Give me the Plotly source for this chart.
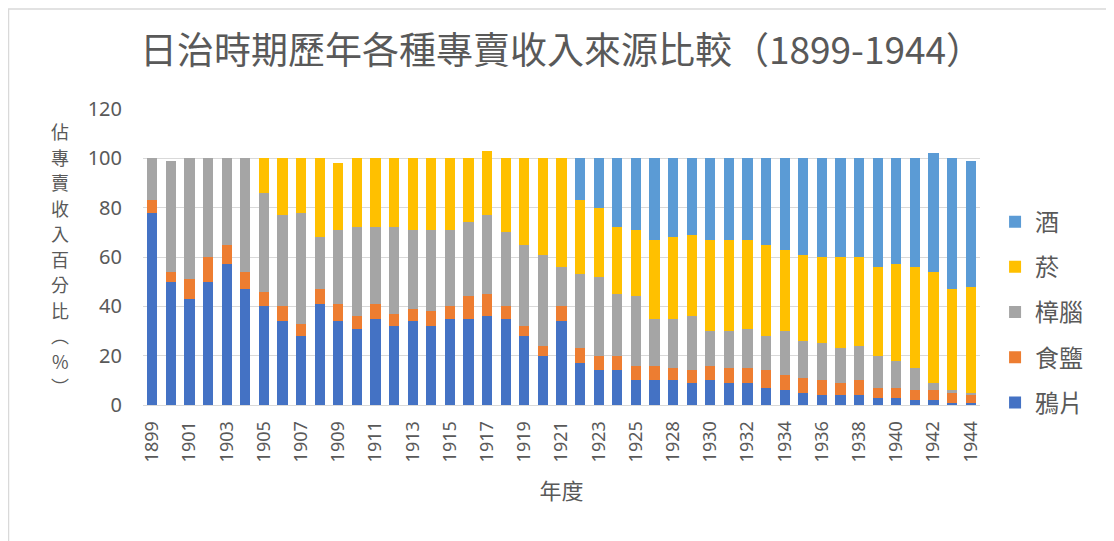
import plotly.graph_objects as go

years = [str(y) for y in range(1899, 1927)] + [str(y) for y in range(1928, 1945)]

opium = [78, 50, 43, 50, 57, 47, 40, 34, 28, 41, 34, 31, 35, 32, 34, 32, 35, 35, 36, 35,
         28, 20, 34, 17, 14, 14, 10, 10, 10, 9, 10, 9, 9, 7, 6, 5, 4, 4, 4, 3, 3, 2, 2, 1, 1]
salt = [5, 4, 8, 10, 8, 7, 6, 6, 5, 6, 7, 5, 6, 5, 5, 6, 5, 9, 9, 5,
        4, 4, 6, 6, 6, 6, 6, 6, 5, 5, 6, 6, 6, 7, 6, 6, 6, 5, 6, 4, 4, 4, 4, 4, 3]
camphor = [17, 45, 49, 40, 35, 46, 40, 37, 45, 21, 30, 36, 31, 35, 32, 33, 31, 30, 32, 30,
           33, 37, 16, 30, 32, 25, 28, 19, 20, 22, 14, 15, 16, 14, 18, 15, 15, 14, 14, 13, 11, 9, 3, 1, 1]
tobacco = [0, 0, 0, 0, 0, 0, 14, 23, 22, 32, 27, 28, 28, 28, 29, 29, 29, 26, 26, 30,
           35, 39, 44, 30, 28, 27, 27, 32, 33, 33, 37, 37, 36, 37, 33, 35, 35, 37, 36, 36, 39, 41, 45, 41, 43]
wine = [0] * 23 + [17, 20, 28, 29, 33, 32, 31, 33, 33, 33, 35, 37, 39, 40, 40, 40, 44, 43, 44, 48, 53, 51]

series = [
    ("鴉片", opium, "#4472C4"),
    ("食鹽", salt, "#ED7D31"),
    ("樟腦", camphor, "#A5A5A5"),
    ("菸", tobacco, "#FFC000"),
    ("酒", wine, "#5B9BD5"),
]

ytitle_chars = list("佔專賣收入百分比") + ["︵", "%", "︶"]

FONT = "Noto Sans, Noto Sans CJK TC, sans-serif"
CJK = "Noto Sans CJK TC, Noto Sans, sans-serif"
GRAY = "#595959"

fig = go.Figure()
n = len(series)
for i, (name, vals, color) in enumerate(series):
    fig.add_trace(go.Bar(
        x=years, y=vals, name=name, legendgroup=name, legendrank=n - i,
        marker=dict(color=color, line=dict(width=0)),
    ))

fig.update_layout(
    barmode="stack",
    bargap=0.45,
    width=1114, height=541,
    margin=dict(l=135, r=142, t=101, b=144),
    paper_bgcolor="white",
    plot_bgcolor="white",
    font=dict(family=FONT, color=GRAY),
    title=dict(
        text="日治時期歷年各種專賣收入來源比較（1899-1944）",
        x=0.5, xref="paper", y=0.92, yanchor="middle",
        font=dict(family=CJK, size=37, color=GRAY),
    ),
    legend=dict(
        x=1.018, xanchor="left", y=0.314, yanchor="middle",
        traceorder="grouped", tracegroupgap=11,
        font=dict(size=24, color=GRAY, family=CJK),
        itemwidth=30,
    ),
    showlegend=True,
)

fig.update_xaxes(
    type="category",
    tickmode="array", tickvals=years[::2], ticktext=years[::2],
    tickangle=-90,
    tickfont=dict(size=18, color=GRAY),
    ticklabelstandoff=8,
    showline=True, linecolor="#d9d9d9", linewidth=1,
    showgrid=False, ticks="",
    title=dict(text="年度", font=dict(size=22, color=GRAY, family=CJK), standoff=22),
)
fig.update_yaxes(
    range=[0, 120], dtick=20,
    tickfont=dict(size=20, color=GRAY),
    ticklabelstandoff=20,
    showgrid=True, gridcolor="#d9d9d9", gridwidth=1,
    zeroline=False, ticks="", ticklen=0,
)

# vertical y-axis title, one character per annotation
plot_h = 541 - 101 - 144
for i, ch in enumerate(ytitle_chars):
    py = 131 - 8 + i * 25.5  # figure pixel y of character centre
    fig.add_annotation(
        text=ch, xref="paper", yref="paper",
        x=-0.099, y=(397 - py) / plot_h,
        xanchor="center", yanchor="middle", showarrow=False,
        font=dict(size=18, color=GRAY, family=CJK),
        borderpad=0,
    )

fig.add_shape(
    type="rect", xref="paper", yref="paper",
    x0=-0.1607, y0=-0.6, x1=1.25, y1=1.338,
    line=dict(color="#d9d9d9", width=1.5), fillcolor="rgba(0,0,0,0)", layer="below",
)

fig.write_html("out.html")
